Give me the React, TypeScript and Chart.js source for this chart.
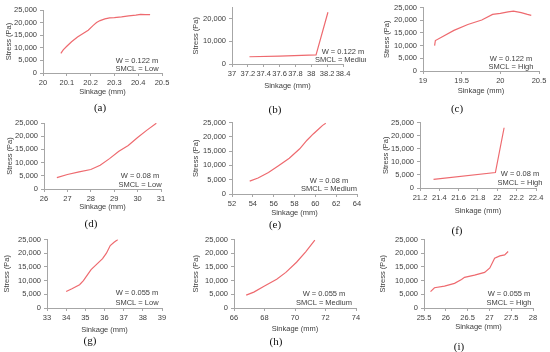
import React, { useEffect, useRef } from "react";
import { Chart, registerables } from "chart.js";

Chart.register(...registerables);

// ---- data ----
const A_X = [20.075, 20.085, 20.1, 20.12, 20.145, 20.17, 20.19, 20.21, 20.225, 20.24, 20.26, 20.28, 20.3, 20.33, 20.36, 20.39, 20.41, 20.43, 20.45];
const A_Y = [7800, 9200, 10600, 12400, 14300, 15800, 17000, 18800, 20000, 20800, 21500, 21900, 22000, 22300, 22700, 23000, 23300, 23200, 23200];
const B_X = [37.22, 37.6, 38.06, 38.21];
const B_Y = [3200, 3500, 4000, 22900];
const C_X = [19.15, 19.16, 19.25, 19.4, 19.58, 19.76, 19.9, 20.0, 20.1, 20.17, 20.27, 20.35, 20.4];
const C_Y = [10000, 12000, 13500, 16000, 18300, 20100, 22300, 22700, 23300, 23600, 23000, 22300, 21900];
const D_X = [26.55, 27.0, 27.5, 28.0, 28.4, 28.8, 29.2, 29.6, 30.0, 30.4, 30.8];
const D_Y = [4300, 5500, 6500, 7400, 9000, 11500, 14300, 16500, 19500, 22300, 24900];
const E_X = [53.7, 54.5, 55.5, 56.5, 57.5, 58.5, 59.2, 59.8, 60.4, 60.7, 61.0];
const E_Y = [4500, 5600, 7500, 10000, 12500, 15800, 18800, 21000, 23000, 24000, 24700];
const F_X = [21.34, 21.98, 22.07];
const F_Y = [3300, 5900, 23000];
const G_X = [34.0, 34.3, 34.7, 34.9, 35.1, 35.3, 35.6, 35.9, 36.1, 36.3, 36.5, 36.7];
const G_Y = [6000, 7000, 8500, 10000, 12000, 14000, 16000, 18000, 20000, 22800, 24000, 25000];
const H_X = [66.8, 67.3, 68.0, 68.8, 69.4, 70.1, 70.7, 71.3];
const H_Y = [4700, 5800, 8000, 10500, 13000, 16700, 20500, 24800];
const I_X = [25.65, 25.74, 25.97, 26.2, 26.36, 26.43, 26.66, 26.89, 27.01, 27.12, 27.24, 27.35, 27.43];
const I_Y = [6000, 7400, 8000, 9000, 10400, 11200, 12000, 13000, 14600, 18200, 19000, 19400, 20600];

const SERIES_X = [A_X, B_X, C_X, D_X, E_X, F_X, G_X, H_X, I_X];
const SERIES_Y = [A_Y, B_Y, C_Y, D_Y, E_Y, F_Y, G_Y, H_Y, I_Y];

const X_MIN = [20, 37, 19, 26, 52, 21.2, 33, 66, 25.5];
const X_MAX = [20.5, 38.4, 20.5, 31, 64, 22.4, 39, 74, 28];
const X_STEP = [0.1, 0.2, 0.5, 1, 2, 0.2, 1, 2, 0.5];
const Y_MIN = 0;
const Y_MAX = 25000;
const Y_STEP = 5000;

const W_LABELS = ["W = 0.122 m", "W = 0.122 m", "W = 0.122 m", "W = 0.08 m", "W = 0.08 m", "W = 0.08 m", "W = 0.055 m", "W = 0.055 m", "W = 0.055 m"];
const SMCL_LABELS = ["SMCL = Low", "SMCL = Medium", "SMCL = High", "SMCL = Low", "SMCL = Medium", "SMCL = High", "SMCL = Low", "SMCL = Medium", "SMCL = High"];
const CAPTIONS = ["(a)", "(b)", "(c)", "(d)", "(e)", "(f)", "(g)", "(h)", "(i)"];
const X_TITLE = "Sinkage (mm)";
const Y_TITLE = "Stress (Pa)";

// ---- layout (page pixel positions) ----
type Layout = {
  cx: number; cy: number; cw: number; ch: number;
  x0: number; x1: number; yt: number; yb: number;
  ytx: number; xty: number;
  ax: number; ay1: number; ay2: number;
  capx: number; capy: number;
};
const LAYOUTS: Layout[] = [
  { cx: 0, cy: 0, cw: 183, ch: 115, x0: 43, x1: 162, yt: 10, yb: 73, ytx: 9, xty: 92, ax: 137, ay1: 61, ay2: 69, capx: 100, capy: 107 },
  { cx: 183, cy: 0, cw: 183, ch: 115, x0: 232, x1: 343, yt: 6, yb: 64, ytx: 196, xty: 86, ax: 343, ay1: 52, ay2: 60, capx: 275, capy: 109 },
  { cx: 366, cy: 0, cw: 184, ch: 115, x0: 423, x1: 539, yt: 7, yb: 71, ytx: 387, xty: 91, ax: 511, ay1: 59, ay2: 67, capx: 457, capy: 108 },
  { cx: 0, cy: 115, cw: 183, ch: 117, x0: 44, x1: 161, yt: 123, yb: 189, ytx: 10, xty: 207, ax: 140, ay1: 176, ay2: 185, capx: 91, capy: 223 },
  { cx: 183, cy: 115, cw: 183, ch: 117, x0: 232, x1: 357, yt: 122, yb: 194, ytx: 196, xty: 213, ax: 329, ay1: 181, ay2: 189, capx: 275, capy: 224 },
  { cx: 366, cy: 115, cw: 184, ch: 117, x0: 420, x1: 536, yt: 122, yb: 188, ytx: 386, xty: 211, ax: 520, ay1: 174, ay2: 183, capx: 457, capy: 230 },
  { cx: 0, cy: 232, cw: 183, ch: 120, x0: 47, x1: 162, yt: 239, yb: 308, ytx: 7, xty: 330, ax: 137, ay1: 293, ay2: 303, capx: 90, capy: 340 },
  { cx: 183, cy: 232, cw: 183, ch: 120, x0: 234, x1: 356, yt: 239, yb: 308, ytx: 196, xty: 329, ax: 324, ay1: 294, ay2: 303, capx: 276, capy: 341 },
  { cx: 366, cy: 232, cw: 184, ch: 120, x0: 424, x1: 533, yt: 238, yb: 308, ytx: 383, xty: 327, ax: 509, ay1: 294, ay2: 303, capx: 459, capy: 346 },
];

const LINE_COLOR = "#EE6A6F";
const AXIS_COLOR = "#A6A6A6";
const TEXT_COLOR = "#404040";
const FONT_FAMILY = "'Liberation Sans', Arial, sans-serif";
const FONT_SIZE = 7.5;

const annotPlugin = {
  id: "annot",
  afterDraw(chart: any, _args: any, opts: any) {
    if (!opts || !opts.lines) return;
    const ctx = chart.ctx;
    ctx.save();
    ctx.font = `${FONT_SIZE}px ${FONT_FAMILY}`;
    ctx.fillStyle = TEXT_COLOR;
    ctx.textAlign = "center";
    ctx.textBaseline = "middle";
    opts.lines.forEach((t: string, i: number) => {
      ctx.fillText(t, opts.x, opts.ys[i]);
    });
    ctx.restore();
  },
};

function Panel({ idx }: { idx: number }) {
  const ref = useRef<HTMLCanvasElement | null>(null);
  const L = LAYOUTS[idx];
  useEffect(() => {
    if (!ref.current) return;
    const xs = SERIES_X[idx];
    const ys = SERIES_Y[idx];
    const font = { family: FONT_FAMILY, size: FONT_SIZE };
    const chart = new Chart(ref.current, {
      type: "line",
      data: {
        datasets: [
          {
            data: xs.map((x, i) => ({ x, y: ys[i] })),
            borderColor: LINE_COLOR,
            borderWidth: 1.2,
            pointRadius: 0,
            tension: 0,
            fill: false,
          },
        ],
      },
      options: {
        animation: false,
        responsive: false,
        devicePixelRatio: 1,
        layout: {
          padding: {
            left: 0,
            top: L.yt - L.cy,
            right: L.cx + L.cw - L.x1,
            bottom: 0,
          },
        },
        plugins: {
          legend: { display: false },
          tooltip: { enabled: false },
          annot: {
            lines: [W_LABELS[idx], SMCL_LABELS[idx]],
            x: L.ax - L.cx,
            ys: [L.ay1 - L.cy, L.ay2 - L.cy],
          },
        } as any,
        scales: {
          x: {
            type: "linear",
            min: X_MIN[idx],
            max: X_MAX[idx],
            ticks: {
              stepSize: X_STEP[idx],
              autoSkip: false,
              maxRotation: 0,
              minRotation: 0,
              padding: 2,
              color: TEXT_COLOR,
              font,
              format: { minimumFractionDigits: 0, maximumFractionDigits: 2 },
            },
            grid: { drawOnChartArea: false, drawTicks: true, tickLength: 3, color: AXIS_COLOR },
            border: { display: true, color: AXIS_COLOR },
            title: {
              display: true,
              text: X_TITLE,
              color: TEXT_COLOR,
              font,
              padding: { top: 0, bottom: L.cy + L.ch - L.xty - FONT_SIZE * 0.6 },
            },
            afterFit: (s: any) => {
              s.height = L.cy + L.ch - L.yb;
            },
          },
          y: {
            type: "linear",
            min: Y_MIN,
            max: Y_MAX,
            ticks: {
              stepSize: Y_STEP,
              padding: 3,
              color: TEXT_COLOR,
              font,
            },
            grid: { drawOnChartArea: false, drawTicks: true, tickLength: 3, color: AXIS_COLOR },
            border: { display: true, color: AXIS_COLOR },
            title: {
              display: true,
              text: Y_TITLE,
              color: TEXT_COLOR,
              font,
              padding: { top: L.ytx - L.cx - FONT_SIZE * 0.6, bottom: 0 },
            },
            afterFit: (s: any) => {
              s.width = L.x0 - L.cx;
            },
          },
        },
      },
      plugins: [annotPlugin],
    } as any);
    return () => chart.destroy();
  }, [idx]);
  return (
    <>
      <canvas
        ref={ref}
        width={L.cw}
        height={L.ch}
        style={{ position: "absolute", left: L.cx, top: L.cy, width: L.cw, height: L.ch }}
      />
      <div
        style={{
          position: "absolute",
          left: L.capx,
          top: L.capy,
          transform: "translate(-50%, -50%)",
          fontFamily: "'Liberation Serif', 'DejaVu Serif', serif",
          fontSize: 11,
          color: "#111",
          whiteSpace: "nowrap",
          lineHeight: 1,
        }}
      >
        {CAPTIONS[idx]}
      </div>
    </>
  );
}

export default function App() {
  useEffect(() => {
    document.body.style.margin = "0";
  }, []);
  return (
    <div
      style={{
        position: "fixed",
        left: 0,
        top: 0,
        width: 550,
        height: 352,
        background: "#ffffff",
        overflow: "hidden",
      }}
    >
      {LAYOUTS.map((_, i) => (
        <Panel key={i} idx={i} />
      ))}
    </div>
  );
}
